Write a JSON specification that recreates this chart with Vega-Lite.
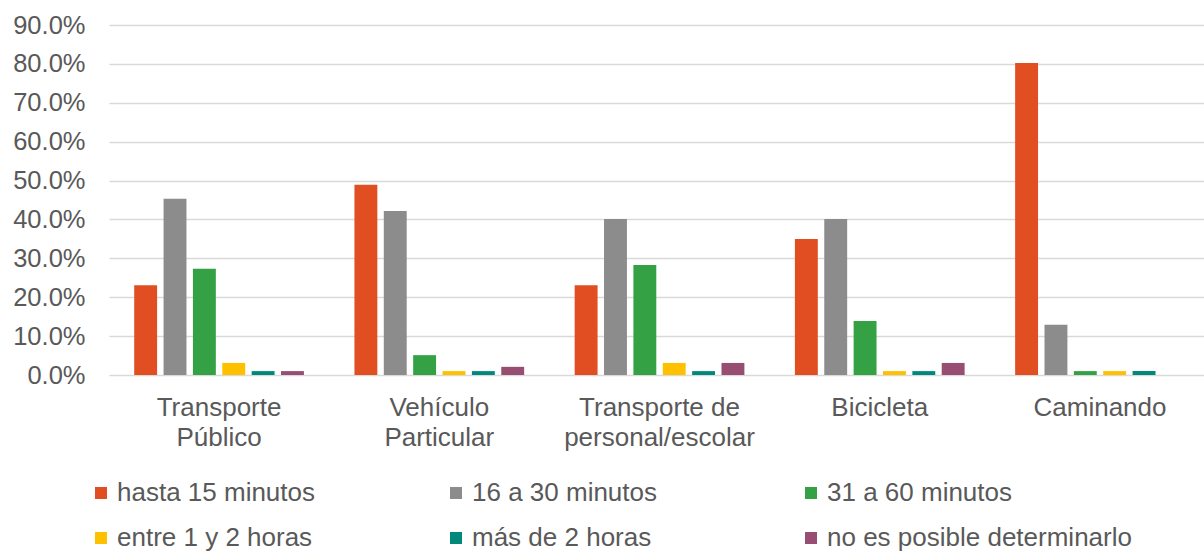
{
  "$schema": "https://vega.github.io/schema/vega-lite/v6.json",
  "autosize": {"type": "none"},
  "width": 1095,
  "height": 350,
  "padding": {"left": 109, "top": 25, "right": 0, "bottom": 178},
  "background": "white",
  "config": {
    "font": "Liberation Sans",
    "view": {"stroke": null},
    "axis": {"labelColor": "#595959", "labelFont": "Liberation Sans"}
  },
  "data": {
    "values": [
      {"modo": "Transporte Público", "tiempo": "hasta 15 minutos", "pct": 0.231},
      {"modo": "Transporte Público", "tiempo": "16 a 30 minutos", "pct": 0.453},
      {"modo": "Transporte Público", "tiempo": "31 a 60 minutos", "pct": 0.273},
      {"modo": "Transporte Público", "tiempo": "entre 1 y 2 horas", "pct": 0.031},
      {"modo": "Transporte Público", "tiempo": "más de 2 horas", "pct": 0.010},
      {"modo": "Transporte Público", "tiempo": "no es posible determinarlo", "pct": 0.010},
      {"modo": "Vehículo Particular", "tiempo": "hasta 15 minutos", "pct": 0.489},
      {"modo": "Vehículo Particular", "tiempo": "16 a 30 minutos", "pct": 0.422},
      {"modo": "Vehículo Particular", "tiempo": "31 a 60 minutos", "pct": 0.051},
      {"modo": "Vehículo Particular", "tiempo": "entre 1 y 2 horas", "pct": 0.010},
      {"modo": "Vehículo Particular", "tiempo": "más de 2 horas", "pct": 0.010},
      {"modo": "Vehículo Particular", "tiempo": "no es posible determinarlo", "pct": 0.021},
      {"modo": "Transporte de personal/escolar", "tiempo": "hasta 15 minutos", "pct": 0.231},
      {"modo": "Transporte de personal/escolar", "tiempo": "16 a 30 minutos", "pct": 0.401},
      {"modo": "Transporte de personal/escolar", "tiempo": "31 a 60 minutos", "pct": 0.283},
      {"modo": "Transporte de personal/escolar", "tiempo": "entre 1 y 2 horas", "pct": 0.031},
      {"modo": "Transporte de personal/escolar", "tiempo": "más de 2 horas", "pct": 0.010},
      {"modo": "Transporte de personal/escolar", "tiempo": "no es posible determinarlo", "pct": 0.031},
      {"modo": "Bicicleta", "tiempo": "hasta 15 minutos", "pct": 0.350},
      {"modo": "Bicicleta", "tiempo": "16 a 30 minutos", "pct": 0.401},
      {"modo": "Bicicleta", "tiempo": "31 a 60 minutos", "pct": 0.139},
      {"modo": "Bicicleta", "tiempo": "entre 1 y 2 horas", "pct": 0.010},
      {"modo": "Bicicleta", "tiempo": "más de 2 horas", "pct": 0.010},
      {"modo": "Bicicleta", "tiempo": "no es posible determinarlo", "pct": 0.031},
      {"modo": "Caminando", "tiempo": "hasta 15 minutos", "pct": 0.802},
      {"modo": "Caminando", "tiempo": "16 a 30 minutos", "pct": 0.129},
      {"modo": "Caminando", "tiempo": "31 a 60 minutos", "pct": 0.010},
      {"modo": "Caminando", "tiempo": "entre 1 y 2 horas", "pct": 0.010},
      {"modo": "Caminando", "tiempo": "más de 2 horas", "pct": 0.010},
      {"modo": "Caminando", "tiempo": "no es posible determinarlo", "pct": 0.0}
    ]
  },
  "mark": {"type": "bar"},
  "encoding": {
    "x": {
      "field": "modo",
      "type": "nominal",
      "sort": null,
      "scale": {"paddingInner": 0.2, "paddingOuter": 0.086, "align": 0.58},
      "axis": {
        "title": null,
        "labelAngle": 0,
        "domain": false,
        "ticks": false,
        "labelFontSize": 26,
        "labelLineHeight": 30,
        "labelPadding": 19,
        "labelBaseline": "top",
        "labelLimit": 400,
        "labelExpr": "datum.value == 'Transporte Público' ? ['Transporte', 'Público'] : datum.value == 'Vehículo Particular' ? ['Vehículo', 'Particular'] : datum.value == 'Transporte de personal/escolar' ? ['Transporte de', 'personal/escolar'] : datum.value"
      }
    },
    "xOffset": {
      "field": "tiempo",
      "type": "nominal",
      "sort": null,
      "scale": {"paddingInner": 0.22, "paddingOuter": 0.11}
    },
    "y": {
      "field": "pct",
      "type": "quantitative",
      "scale": {"domain": [0, 0.9], "nice": false},
      "axis": {
        "title": null,
        "format": ".1%",
        "values": [0, 0.1, 0.2, 0.3, 0.4, 0.5, 0.6, 0.7, 0.8, 0.9],
        "domain": false,
        "ticks": false,
        "labelFontSize": 25.5,
        "labelPadding": 24,
        "gridColor": "#D9D9D9",
        "gridWidth": 1.5
      }
    },
    "color": {
      "field": "tiempo",
      "type": "nominal",
      "sort": null,
      "scale": {
        "domain": ["hasta 15 minutos", "16 a 30 minutos", "31 a 60 minutos", "entre 1 y 2 horas", "más de 2 horas", "no es posible determinarlo"],
        "range": ["#E04E22", "#8C8C8C", "#34A145", "#FFC000", "#00897B", "#984E72"]
      },
      "legend": {
        "title": null,
        "orient": "none",
        "legendX": -21,
        "legendY": 455,
        "direction": "horizontal",
        "columns": 3,
        "gridAlign": "all",
        "columnPadding": 21,
        "rowPadding": 19,
        "symbolType": "square",
        "symbolSize": 144,
        "symbolStrokeWidth": 0,
        "symbolOffset": 0,
        "labelOffset": 3,
        "labelFontSize": 26,
        "labelColor": "#595959",
        "labelLimit": 400
      }
    }
  }
}
